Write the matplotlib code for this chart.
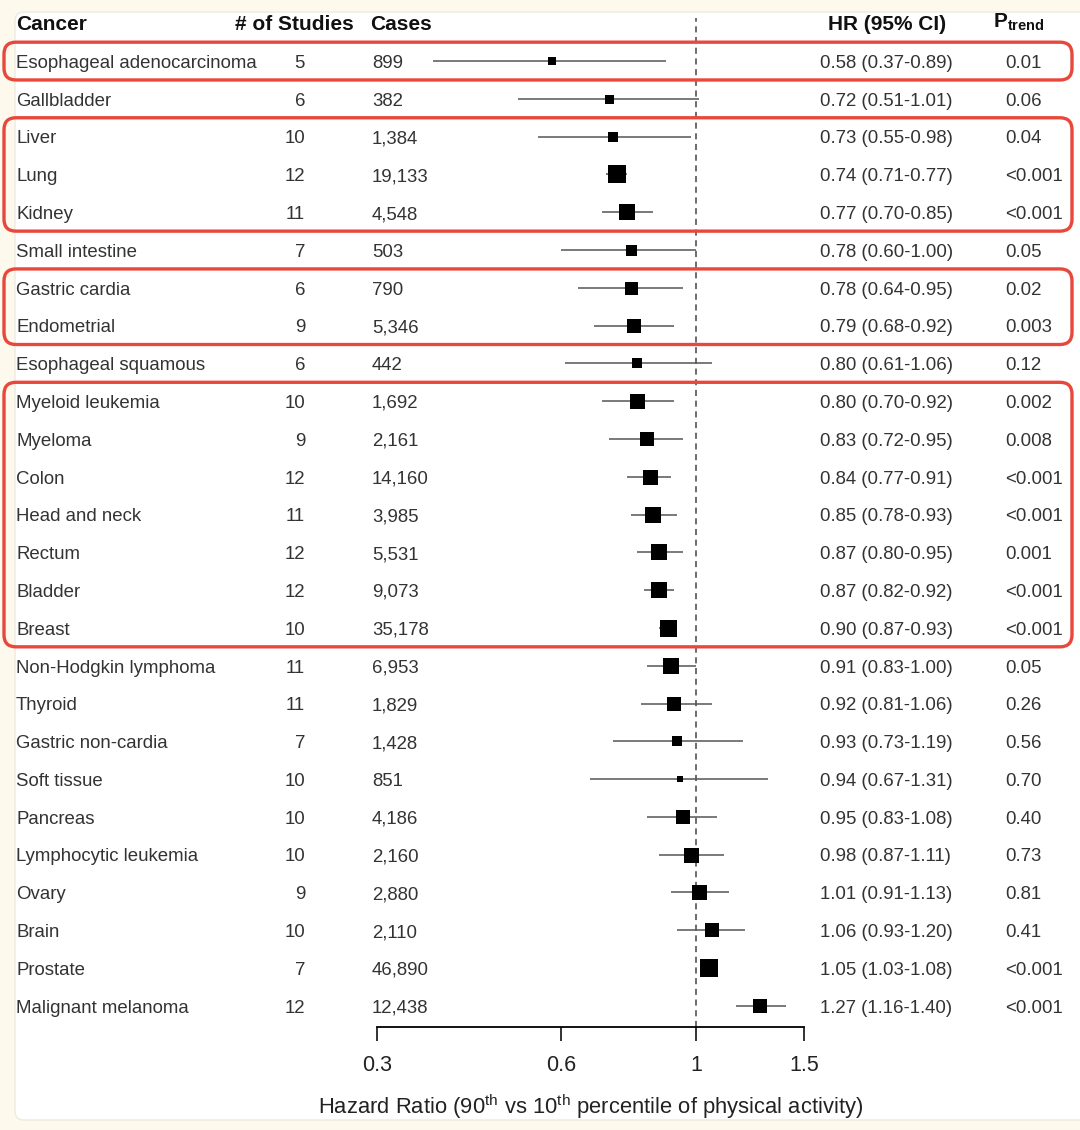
import matplotlib
matplotlib.use('Agg')
import matplotlib.pyplot as plt
from matplotlib.patches import FancyBboxPatch
from matplotlib.transforms import blended_transform_factory

plt.rcParams['font.family'] = ['Liberation Sans', 'DejaVu Sans']
plt.rcParams['mathtext.fontset'] = 'custom'
plt.rcParams['mathtext.rm'] = 'Liberation Sans'
plt.rcParams['mathtext.bf'] = 'Liberation Sans:bold'

cancers = ["Esophageal adenocarcinoma", "Gallbladder", "Liver", "Lung", "Kidney",
           "Small intestine", "Gastric cardia", "Endometrial", "Esophageal squamous",
           "Myeloid leukemia", "Myeloma", "Colon", "Head and neck", "Rectum", "Bladder",
           "Breast", "Non-Hodgkin lymphoma", "Thyroid", "Gastric non-cardia", "Soft tissue",
           "Pancreas", "Lymphocytic leukemia", "Ovary", "Brain", "Prostate",
           "Malignant melanoma"]
n_studies = [5, 6, 10, 12, 11, 7, 6, 9, 6, 10, 9, 12, 11, 12, 12, 10, 11, 11, 7, 10,
             10, 10, 9, 10, 7, 12]
cases = ["899", "382", "1,384", "19,133", "4,548", "503", "790", "5,346", "442",
         "1,692", "2,161", "14,160", "3,985", "5,531", "9,073", "35,178", "6,953",
         "1,829", "1,428", "851", "4,186", "2,160", "2,880", "2,110", "46,890", "12,438"]
hr = [0.58, 0.72, 0.73, 0.74, 0.77, 0.78, 0.78, 0.79, 0.80, 0.80, 0.83, 0.84, 0.85,
      0.87, 0.87, 0.90, 0.91, 0.92, 0.93, 0.94, 0.95, 0.98, 1.01, 1.06, 1.05, 1.27]
ci_lo = [0.37, 0.51, 0.55, 0.71, 0.70, 0.60, 0.64, 0.68, 0.61, 0.70, 0.72, 0.77, 0.78,
         0.80, 0.82, 0.87, 0.83, 0.81, 0.73, 0.67, 0.83, 0.87, 0.91, 0.93, 1.03, 1.16]
ci_hi = [0.89, 1.01, 0.98, 0.77, 0.85, 1.00, 0.95, 0.92, 1.06, 0.92, 0.95, 0.91, 0.93,
         0.95, 0.92, 0.93, 1.00, 1.06, 1.19, 1.31, 1.08, 1.11, 1.13, 1.20, 1.08, 1.40]
p_trend = ["0.01", "0.06", "0.04", "<0.001", "<0.001", "0.05", "0.02", "0.003", "0.12",
           "0.002", "0.008", "<0.001", "<0.001", "0.001", "<0.001", "<0.001", "0.05",
           "0.26", "0.56", "0.70", "0.40", "0.73", "0.81", "0.41", "<0.001", "<0.001"]
# box size (study weight), in pixels
box_px = [8, 9, 10, 18, 16, 11, 13, 14, 10, 15, 14, 15, 16, 16, 16, 17, 16, 14, 10, 6,
          14, 15, 15, 14, 18, 14]
highlight = [(0, 0), (2, 4), (6, 7), (9, 15)]
x_ticks = [0.3, 0.6, 1, 1.5]
x_ticklabels = ["0.3", "0.6", "1", "1.5"]

W, H = 1080, 1130
TXT = "#333333"
HEAD = "#111111"
RED = "#e8473b"

fig = plt.figure(figsize=(W / 100, H / 100), dpi=100, facecolor="#fdf9ec")

# white card behind everything
fig.patches.append(FancyBboxPatch((15 / W, 10 / H), (W + 20 - 15) / W, (1118 - 10) / H,
                                  boxstyle="round,pad=0,rounding_size=0.008",
                                  transform=fig.transFigure, facecolor="white",
                                  edgecolor="#eeeae0", linewidth=1, zorder=-5))

ax = fig.add_axes([377 / W, (H - 1027) / H, (804 - 377) / W, (1027 - 18) / H])
ax.set_facecolor("none")
ax.set_xscale("log")
ax.set_xlim(0.3, 1.5)
ax.set_ylim(25.56, -1.14)
for s in ["top", "left", "right"]:
    ax.spines[s].set_visible(False)
ax.spines["bottom"].set_linewidth(1.3)
ax.set_yticks([])
ax.set_xticks(x_ticks)
ax.set_xticklabels(x_ticklabels)
ax.minorticks_off()
ax.tick_params(axis="x", direction="out", length=10, width=1.3, pad=10,
               labelsize=15.5, colors="#222222")
ax.set_xlabel(r"Hazard Ratio (90$^{\rm th}$ vs 10$^{\rm th}$ percentile of physical activity)",
              fontsize=15.8, color="#222222", labelpad=12)

ax.axvline(1, color="#444444", lw=1.1, ls=(0, (4, 3)), zorder=1)

rows = list(range(len(cancers)))
ax.hlines(rows, ci_lo, ci_hi, color="#555555", lw=1.1, zorder=2, clip_on=False)
for r in rows:
    ax.plot(hr[r], r, marker="s", color="black", markersize=box_px[r] * 0.72,
            markeredgewidth=0, zorder=3, clip_on=False)

tr = blended_transform_factory(fig.transFigure, ax.transData)
fs = 13.4
bl = 0.18  # baseline offset so text is centred on the row
for r in rows:
    y = r + bl
    ax.text(16 / W, y, cancers[r], transform=tr, ha="left", va="baseline", fontsize=fs, color=TXT)
    ax.text(305 / W, y, str(n_studies[r]), transform=tr, ha="right", va="baseline",
            fontsize=fs, color=TXT)
    ax.text(372 / W, y, cases[r], transform=tr, ha="left", va="baseline", fontsize=fs, color=TXT)
    ax.text(820 / W, y, f"{hr[r]:.2f} ({ci_lo[r]:.2f}-{ci_hi[r]:.2f})", transform=tr,
            ha="left", va="baseline", fontsize=fs, color=TXT)
    ax.text(1005 / W, y, p_trend[r], transform=tr, ha="left", va="baseline", fontsize=fs,
            color=TXT)

hy = -1.03 + 0.2
hfs = 15
ax.text(16 / W, hy, "Cancer", transform=tr, ha="left", va="baseline", fontsize=hfs,
        fontweight="bold", color=HEAD)
ax.text(354 / W, hy, "# of Studies", transform=tr, ha="right", va="baseline", fontsize=hfs,
        fontweight="bold", color=HEAD)
ax.text(370 / W, hy, "Cases", transform=tr, ha="left", va="baseline", fontsize=hfs,
        fontweight="bold", color=HEAD)
ax.text(887 / W, hy, "HR (95% CI)", transform=tr, ha="center", va="baseline", fontsize=hfs,
        fontweight="bold", color=HEAD)
ax.text(993 / W, hy - 0.05, r"$\mathbf{P}_{\mathbf{trend}}$", transform=tr, ha="left",
        va="baseline", fontsize=hfs, color=HEAD)

# red highlight boxes around row groups
fig.canvas.draw()
for r0, r1 in highlight:
    y_top = ax.transData.transform((1, r0 - 0.5))[1]
    y_bot = ax.transData.transform((1, r1 + 0.5))[1]
    x0, x1 = 4, 1072
    fig.patches.append(FancyBboxPatch((x0, y_bot), x1 - x0, y_top - y_bot,
                                      boxstyle="round,pad=0,rounding_size=12",
                                      transform=None, facecolor="none", edgecolor=RED,
                                      linewidth=2.4, zorder=5))

fig.savefig("out.png", dpi=100, facecolor=fig.get_facecolor())
